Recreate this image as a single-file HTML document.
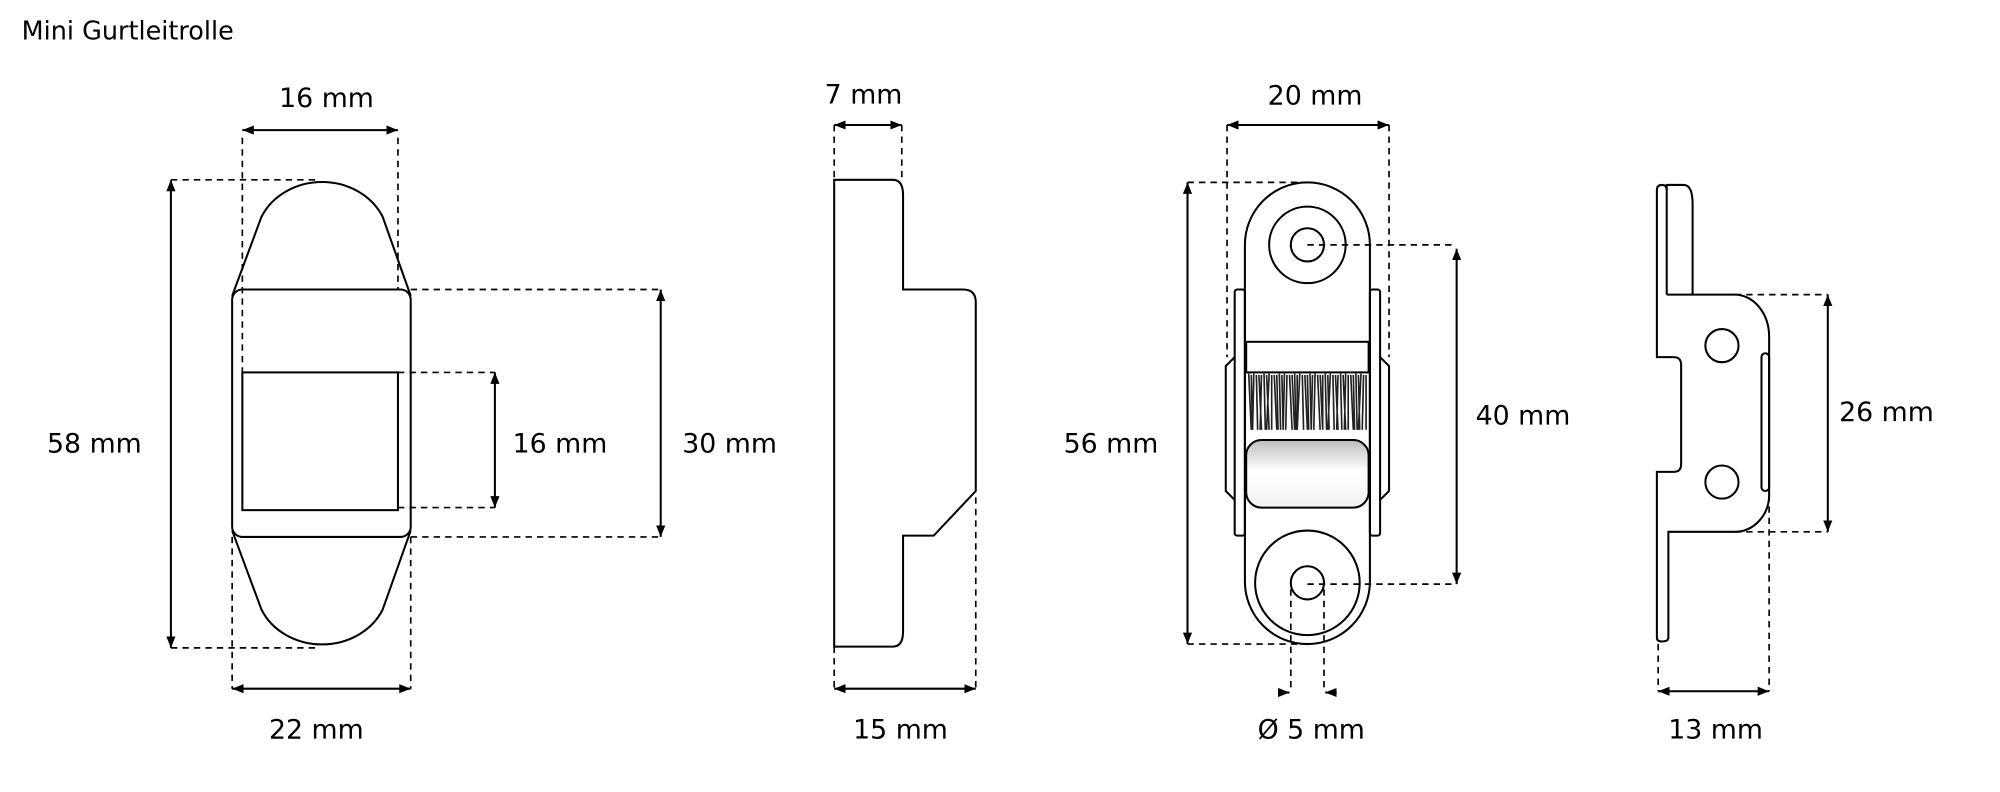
<!DOCTYPE html>
<html><head><meta charset="utf-8"><style>
html,body{margin:0;padding:0;background:#fff;}
svg{display:block;}
text{font-family:"DejaVu Sans","Liberation Sans",sans-serif;font-size:21px;fill:#000;}
</style></head><body>
<svg width="2000" height="792" viewBox="0 0 1568 621" preserveAspectRatio="none" xmlns="http://www.w3.org/2000/svg">
<defs>
<marker id="a" viewBox="0 0 10 10" refX="10" refY="5" markerWidth="9" markerHeight="9" orient="auto-start-reverse" markerUnits="userSpaceOnUse"><path d="M0,1 L10,5 L0,9 Z" fill="#000"/></marker>
<linearGradient id="g" x1="0" y1="0" x2="0" y2="1"><stop offset="0" stop-color="#bdbdbd"/><stop offset="0.45" stop-color="#fff"/><stop offset="1" stop-color="#f2f2f2"/></linearGradient>
</defs>
<rect width="1568" height="621" fill="#fff"/>
<text x="17" y="31" style="font-size:20px">Mini Gurtleitrolle</text>

<g fill="none" stroke="#000" stroke-width="1.6">
<!-- Figure 1 -->
<path d="M182,232 L205,170 A52,46 0 0 1 300,170 L322,232"/>
<path d="M182,416 L205,478 A52,46 0 0 0 300,478 L322,416"/>
<rect x="182" y="227" width="140" height="194" rx="8"/>
<rect x="190" y="292" width="122" height="108"/>
<!-- Figure 2 -->
<path d="M654,141 H700 Q708,141 708,153 V227 H755 Q765,227 765,237 V385 L732,420 H708 V495 Q708,507 700,507 H654 Z"/>
<!-- Figure 3 -->
<path d="M968,280 L961,287 V385 L968,392"/>
<path d="M1082,280 L1089,287 V385 L1082,392"/>
<rect x="968" y="227" width="8" height="193" rx="2"/>
<rect x="1074" y="227" width="8" height="193" rx="2"/>
<rect x="976" y="143" width="98" height="362" rx="49"/>
<circle cx="1025" cy="192" r="30"/><circle cx="1025" cy="192" r="13"/>
<circle cx="1025" cy="457" r="41"/><circle cx="1025" cy="457" r="13"/>
<rect x="977" y="268" width="96" height="24"/>
<rect x="977" y="345" width="96" height="53" rx="12" fill="url(#g)"/>
<!-- Figure 4 -->
<path d="M1306.7,231 V145 H1320 Q1327,145 1327,160 V231"/>
<path d="M1306.7,231 H1360 A27,33 0 0 1 1387,264 V388 A27,29 0 0 1 1360,417 H1308 V500 Q1308,503 1303,503 Q1299,503 1299,500 V370 H1312 Q1318,370 1318,364 V286 Q1318,280 1312,280 H1299 V149 Q1299,145 1303,145 Q1306.7,145 1306.7,149"/>
<circle cx="1350" cy="271" r="13"/><circle cx="1350" cy="378" r="13"/>
<rect x="1381" y="277" width="6" height="108" rx="3"/>
</g>
<!-- brush -->
<g stroke="#222" stroke-width="1.3">
<path d="M979,293 l2,44 M983,293 l-1,44 M987,294 l2,43 M991,293 l1,44 M995,293 l-2,44 M999,294 l2,43 M1003,293 l1,44 M1007,293 l-1,44 M1011,294 l2,43 M1015,293 l1,44 M1019,293 l-2,44 M1023,294 l2,43 M1027,293 l1,44 M1031,293 l-1,44 M1035,294 l2,43 M1039,293 l1,44 M1043,293 l-2,44 M1047,294 l2,43 M1051,293 l1,44 M1055,293 l-1,44 M1059,294 l2,43 M1063,293 l1,44 M1067,293 l-2,44 M1071,294 l0,43 M981,294 l1,43 M985,294 l1,43 M989,294 l-1,43 M993,294 l2,43 M997,294 l0,43 M1001,294 l1,43 M1005,294 l1,43 M1009,294 l-1,43 M1013,294 l2,43 M1017,294 l0,43 M1021,294 l1,43 M1025,294 l1,43 M1029,294 l-1,43 M1033,294 l2,43 M1037,294 l0,43 M1041,294 l1,43 M1045,294 l1,43 M1049,294 l-1,43 M1053,294 l2,43 M1057,294 l0,43 M1061,294 l1,43 M1065,294 l1,43 M1069,294 l-1,43"/>
</g>

<!-- dashed extension lines -->
<g fill="none" stroke="#000" stroke-width="1.3" stroke-dasharray="5,4">
<path d="M190,108 V292 M312,108 V227 M134,141 H250 M134,508 H250 M322,227 H518 M322,421 H518 M312,292 H388 M312,398 H388 M182,421 V540 M322,421 V540"/>
<path d="M654,98 V141 M707,98 V141 M654,507 V540 M765,390 V540"/>
<path d="M962,98 V280 M1089,98 V280 M931,143 H1025 M931,505 H1025 M1025,192 H1142 M1025,458 H1142 M1012,462 V540 M1038,462 V540"/>
<path d="M1360,231 H1433 M1360,417 H1433 M1300,505 V542 M1387,388 V542"/>
</g>

<!-- arrows -->
<g stroke="#000" stroke-width="1.6" marker-start="url(#a)" marker-end="url(#a)">
<line x1="190" y1="102" x2="312" y2="102"/>
<line x1="134" y1="141" x2="134" y2="508"/>
<line x1="518" y1="227" x2="518" y2="421"/>
<line x1="388" y1="292" x2="388" y2="398"/>
<line x1="182" y1="540" x2="322" y2="540"/>
<line x1="654" y1="98" x2="707" y2="98"/>
<line x1="654" y1="540" x2="765" y2="540"/>
<line x1="962" y1="98" x2="1089" y2="98"/>
<line x1="931" y1="143" x2="931" y2="505"/>
<line x1="1142" y1="195" x2="1142" y2="458"/>
<line x1="1433" y1="231" x2="1433" y2="417"/>
<line x1="1300" y1="542" x2="1387" y2="542"/>
</g>
<g stroke="#000" stroke-width="1.6">
<line x1="1002" y1="543" x2="1011" y2="543" marker-end="url(#a)"/>
<line x1="1048" y1="543" x2="1039" y2="543" marker-end="url(#a)"/>
</g>

<g text-anchor="middle">
<text x="256" y="84">16 mm</text>
<text x="74" y="355">58 mm</text>
<text x="439" y="355">16 mm</text>
<text x="572" y="355">30 mm</text>
<text x="248" y="579">22 mm</text>
<text x="677" y="81">7 mm</text>
<text x="706" y="579">15 mm</text>
<text x="1031" y="82">20 mm</text>
<text x="871" y="355">56 mm</text>
<text x="1194" y="333">40 mm</text>
<text x="1028" y="579">Ø 5 mm</text>
<text x="1479" y="330">26 mm</text>
<text x="1345" y="579">13 mm</text>
</g>
</svg>
</body></html>
